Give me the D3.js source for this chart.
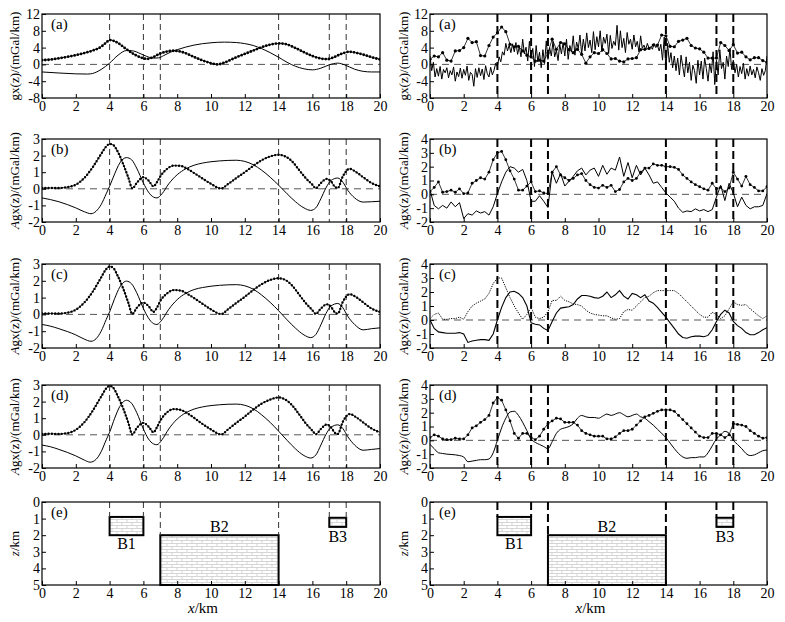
<!DOCTYPE html>
<html>
<head>
<meta charset="utf-8">
<title>gx(z) profiles</title>
<style>
body { margin: 0; background: #fff; }
text { font-family: "Times New Roman", "Liberation Serif", serif; fill: #000; }
.tick text { font-size: 14px; }
</style>
</head>
<body>
<script src="https://cdn.jsdelivr.net/npm/d3@7/dist/d3.min.js"></script>
<script>
// ---------- data ----------
var xTicks = [0, 2, 4, 6, 8, 10, 12, 14, 16, 18, 20];
var markX = [4, 6, 7, 14, 17, 18];          // dashed guide lines
var ticksA = [-8, -4, 0, 4, 8, 12];
var ticksL = [-2, -1, 0, 1, 2, 3];
var ticksR = [-2, -1, 0, 1, 2, 3, 4];
var ticksZ = [0, 1, 2, 3, 4, 5];

// left column, smooth curves: [x, value]
var leftA_amp = [[0,1.0],[0.5,1.15],[1,1.45],[1.5,1.8],[2,2.2],[2.5,2.7],[3,3.3],[3.5,4.2],[3.8,5.2],[4,5.8],[4.25,5.6],[4.5,5.1],[5,3.6],[5.5,2.3],[6,1.45],[6.2,1.3],[6.5,1.6],[7,2.6],[7.5,3.15],[7.8,3.25],[8.2,3.05],[8.6,2.5],[9,1.75],[9.5,0.95],[10,0.3],[10.4,0.0],[10.8,0.45],[11.5,1.7],[12,2.5],[12.5,3.3],[13,4.1],[13.5,4.7],[14,5.0],[14.4,4.85],[15,3.9],[15.5,2.9],[16,2.0],[16.5,1.4],[16.9,1.25],[17.3,1.75],[17.7,2.5],[18.2,3.0],[18.7,2.65],[19.2,2.1],[19.6,1.6],[20,1.2]];
var leftA_sol = [[0,-1.8],[1,-2.05],[2,-2.25],[2.7,-2.3],[3,-2.15],[3.5,-1.2],[4,0.3],[4.5,2.2],[5,3.3],[5.4,3.2],[5.8,2.6],[6.2,1.9],[6.6,1.5],[6.9,1.55],[7.2,2.1],[7.6,2.9],[8,3.5],[9,4.6],[10,5.15],[10.8,5.3],[11.5,5.2],[12,4.95],[12.5,4.5],[13,3.75],[13.5,2.8],[14,1.7],[14.5,0.5],[15,-0.45],[15.5,-1.05],[16,-1.3],[16.5,-0.9],[17,-0.1],[17.5,0.3],[17.9,-0.1],[18.5,-1.15],[19,-1.65],[19.5,-1.8],[20,-1.8]];

var leftB_amp = [[0,0.05],[0.5,0.05],[1,0.05],[1.5,0.1],[2,0.25],[2.5,0.65],[3,1.3],[3.5,2.1],[3.8,2.55],[4,2.7],[4.2,2.65],[4.5,2.2],[4.8,1.5],[5.1,0.7],[5.35,0.02],[5.6,0.35],[6,0.7],[6.3,0.5],[6.6,0.15],[6.8,0.4],[7,0.75],[7.4,1.2],[7.8,1.4],[8.2,1.38],[8.6,1.2],[9,0.95],[9.5,0.62],[10,0.3],[10.6,0.02],[11,0.28],[11.5,0.65],[12,1.0],[12.5,1.38],[13,1.72],[13.5,1.95],[14,2.05],[14.4,1.95],[14.8,1.65],[15.2,1.15],[15.6,0.65],[16,0.25],[16.2,0.03],[16.5,0.35],[16.85,0.6],[17.1,0.45],[17.35,0.1],[17.5,0.05],[17.8,0.75],[18.2,1.2],[18.6,1.0],[19,0.7],[19.5,0.35],[20,0.15]];
var leftB_sol = [[0,-0.55],[0.5,-0.65],[1,-0.78],[1.5,-0.95],[2,-1.15],[2.5,-1.38],[2.9,-1.5],[3.2,-1.35],[3.5,-0.95],[3.8,-0.3],[4,0.15],[4.3,0.9],[4.6,1.55],[5,1.88],[5.3,1.75],[5.6,1.25],[6,0.35],[6.3,-0.2],[6.6,-0.5],[6.8,-0.55],[7.1,-0.3],[7.5,0.3],[8,0.85],[8.5,1.2],[9,1.42],[9.5,1.55],[10,1.63],[10.5,1.68],[11,1.71],[11.5,1.72],[12,1.65],[12.5,1.45],[13,1.12],[13.5,0.7],[14,0.22],[14.5,-0.3],[15,-0.78],[15.5,-1.15],[15.9,-1.3],[16.2,-1.15],[16.5,-0.6],[16.8,0.05],[17.1,0.5],[17.5,0.65],[17.8,0.4],[18.1,-0.1],[18.5,-0.55],[19,-0.8],[19.5,-0.78],[20,-0.75]];

var leftC_amp = [[0,0.05],[0.5,0.05],[1,0.05],[1.5,0.1],[2,0.28],[2.5,0.7],[3,1.35],[3.5,2.2],[3.8,2.7],[4,2.85],[4.2,2.78],[4.5,2.25],[4.8,1.55],[5.1,0.72],[5.35,0.02],[5.6,0.38],[6,0.7],[6.3,0.5],[6.6,0.15],[6.8,0.4],[7,0.8],[7.4,1.25],[7.8,1.45],[8.2,1.42],[8.6,1.22],[9,0.97],[9.5,0.63],[10,0.3],[10.6,0.02],[11,0.3],[11.5,0.68],[12,1.05],[12.5,1.45],[13,1.8],[13.5,2.05],[14,2.15],[14.4,2.05],[14.8,1.72],[15.2,1.2],[15.6,0.68],[16,0.25],[16.2,0.03],[16.5,0.35],[16.85,0.6],[17.1,0.45],[17.35,0.1],[17.5,0.05],[17.8,0.75],[18.2,1.2],[18.6,1.02],[19,0.72],[19.5,0.35],[20,0.15]];
var leftC_sol = [[0,-0.6],[0.5,-0.7],[1,-0.85],[1.5,-1.02],[2,-1.22],[2.5,-1.47],[2.9,-1.6],[3.2,-1.45],[3.5,-1.0],[3.8,-0.3],[4,0.15],[4.3,0.95],[4.6,1.62],[5,1.98],[5.3,1.82],[5.6,1.3],[6,0.35],[6.3,-0.22],[6.6,-0.55],[6.8,-0.6],[7.1,-0.32],[7.5,0.3],[8,0.88],[8.5,1.25],[9,1.48],[9.5,1.6],[10,1.68],[10.5,1.73],[11,1.76],[11.5,1.77],[12,1.7],[12.5,1.5],[13,1.15],[13.5,0.72],[14,0.22],[14.5,-0.32],[15,-0.82],[15.5,-1.22],[15.9,-1.38],[16.2,-1.2],[16.5,-0.62],[16.8,0.05],[17.1,0.5],[17.5,0.65],[17.8,0.4],[18.1,-0.12],[18.5,-0.6],[19,-0.92],[19.5,-0.85],[20,-0.8]];

var leftD_amp = [[0,0.05],[0.5,0.06],[1,0.05],[1.5,0.1],[2,0.3],[2.5,0.75],[3,1.45],[3.5,2.3],[3.8,2.8],[4,2.95],[4.2,2.85],[4.5,2.3],[4.8,1.6],[5.1,0.75],[5.35,0.02],[5.6,0.4],[6,0.72],[6.3,0.5],[6.6,0.15],[6.8,0.45],[7,0.85],[7.4,1.35],[7.8,1.55],[8.2,1.5],[8.6,1.3],[9,1.02],[9.5,0.65],[10,0.32],[10.6,0.02],[11,0.32],[11.5,0.72],[12,1.1],[12.5,1.52],[13,1.88],[13.5,2.12],[14,2.25],[14.4,2.12],[14.8,1.78],[15.2,1.25],[15.6,0.7],[16,0.25],[16.2,0.03],[16.5,0.35],[16.85,0.62],[17.1,0.45],[17.35,0.1],[17.5,0.05],[17.8,0.78],[18.2,1.25],[18.6,1.05],[19,0.75],[19.5,0.38],[20,0.15]];
var leftD_sol = [[0,-0.62],[0.5,-0.72],[1,-0.88],[1.5,-1.06],[2,-1.27],[2.5,-1.52],[2.85,-1.65],[3.2,-1.48],[3.5,-1.02],[3.8,-0.3],[4,0.15],[4.3,1.0],[4.6,1.7],[5,2.08],[5.3,1.9],[5.6,1.35],[6,0.35],[6.3,-0.25],[6.6,-0.55],[6.8,-0.6],[7.1,-0.3],[7.5,0.35],[8,0.95],[8.5,1.32],[9,1.55],[9.5,1.68],[10,1.76],[10.5,1.81],[11,1.84],[11.5,1.85],[12,1.78],[12.5,1.57],[13,1.2],[13.5,0.75],[14,0.22],[14.5,-0.33],[15,-0.85],[15.5,-1.25],[15.9,-1.4],[16.2,-1.22],[16.5,-0.62],[16.8,0.02],[17.1,0.45],[17.5,0.6],[17.8,0.38],[18.1,-0.12],[18.5,-0.62],[19,-0.93],[19.5,-0.88],[20,-0.83]];

// right column, noisy curves on a regular grid (one row = 1 km)
var stepR = 0.25;
var rightA_amp = [
  1.2, 2.0, 1.8, 2.8,   1.0, 0.8, 3.2, 3.3,   4.0, 6.2, 5.2, 5.4,   2.1, 2.0, 4.5, 6.5,
  7.5, 8.9, 7.8, 4.8,   4.2, 4.3, 3.2, 2.2,   1.8, 0.8, 1.0, 0.8,   2.7, 6.0, 3.6, 5.2,
  4.9, 3.5, 2.8, 3.6,   2.4, 0.3, 1.8, 2.8,   2.6, 3.5, 2.6, 1.3,   1.4, 0.8, 0.6, 1.3,
  1.4, 1.6, 3.5, 3.6,   3.8, 4.6, 4.6, 7.0,   6.8, 4.3, 4.2, 5.5,   5.8, 6.2, 4.5, 3.9,
  3.7, 2.9, 1.5, 1.5,   1.5, 5.2, 4.5, 3.3,   4.7, 2.7, 2.9, 1.8,   1.1, 1.6, 1.6, 0.9,
  0.5];
var stepA = 0.1;
var rightA_sol = [
  2.0, -1.5, 0.5, -3.0, -1.0, -2.8, -0.5, -3.5, -1.2, -2.0,
  -0.8, -3.2, -1.5, -2.5, -0.6, -4.0, -1.8, -2.9, -0.9, -3.3,
  -1.2, -2.6, -0.4, -3.8, -1.9, -2.4, -5.2, -1.0, -3.1, -0.8,
  -2.7, -1.1, -3.6, -0.3, -2.2, -3.0, -0.7, -2.5, -1.4, 0.3,
  -0.5, 1.8, 0.6, 3.0, 2.2, 5.0, 3.2, 4.6, 2.8, 4.9,
  3.0, 5.2, 2.4, 4.3, 1.8, 6.0, 2.5, 4.1, 0.8, 5.5,
  1.5, 3.8, -0.5, 4.5, 0.6, 2.9, -0.8, 3.5, 0.2, 5.6,
  1.2, 4.0, 2.0, 5.5, 1.8, 3.4, 0.9, 4.8, 2.5, 5.2,
  2.0, 6.0, 1.2, 4.5, 3.0, 6.8, 2.2, 5.3, 3.8, 7.0,
  2.5, 6.0, 3.2, 7.5, 4.0, 5.8, 2.8, 7.8, 3.5, 6.6,
  4.2, 8.0, 3.0, 6.5, 5.0, 7.2, 2.6, 6.9, 3.8, 5.5,
  4.5, 9.3, 3.4, 8.0, 4.0, 6.2, 2.8, 7.6, 4.8, 6.0,
  3.6, 7.0, 4.2, 5.5, 3.0, 6.8, 3.8, 4.6, 3.5, 5.0,
  3.8, 4.2, 3.6, 5.0, 4.0, 4.5, 3.2, 4.8, 1.0, 6.5,
  -1.0, 5.0, 0.5, 2.8, -0.8, 2.0, -1.5, 1.5, -2.5, 2.2,
  -0.5, -3.0, 1.8, -2.0, 0.5, -3.8, -0.2, -1.5, -4.5, 1.0,
  -2.5, 0.8, -3.5, 1.5, -1.0, -4.0, 0.2, -2.0, 3.0, -4.8,
  1.0, -2.5, 3.5, -1.0, 0.5, -3.5, 2.0, -0.5, 3.8, -1.2,
  1.0, -2.0, 0.0, -3.0, -0.5, -2.2, 0.3, -3.5, -1.0, -2.8,
  -0.4, -2.5, -1.2, -3.2, -0.6, -2.0, -3.8, -1.0, -2.6, -1.5,
  2.0];
var rightB_amp = [
  0.2, 0.5, 0.9, 0.15,   0.2, 0.3, 0.15, 0.4,   0.05, 0.1, 0.8, 1.0,   1.2, 1.1, 1.6, 2.5,
  3.0, 3.1, 2.5, 1.7,    1.1, 0.3, 0.3, 0.6,    0.9, 0.2, 0.25, 0.1,   0.05, 1.6, 2.0, 1.4,
  1.2, 1.0, 1.15, 1.4,   1.5, 1.0, 0.7, 0.5,    0.45, 0.65, 0.5, 0.65, 0.2, 0.35, 0.9, 1.15,
  1.0, 1.15, 1.6, 1.9,   1.9, 2.2, 2.1, 2.1,    2.0, 2.0, 1.95, 1.8,   1.4, 1.15, 0.9, 0.7,
  0.55, 0.4, 0.3, 0.8,   0.4, 0.5, 0.2, 0.45,   1.6, 1.1, 0.6, 1.3,    0.7, 0.5, 0.25, 0.25,
  0.55];
var rightB_sol = [
  0.3, -0.8, -1.05, -0.8,  -1.0, -0.55, -0.9, -0.6,  -1.75, -1.4, -1.5, -1.2,  -1.35, -1.25, -1.5, -0.9,
  0.05, 0.9, 1.6, 2.0,     1.9, 1.6, 1.8, 1.0,       -0.5, -0.5, -0.1, -0.5,   -0.95, 1.6, 0.8, 1.5,
  0.6, 0.95, 1.3, 1.7,     1.9, 1.4, 1.75, 1.9,      1.3, 2.1, 1.45, 1.9,      1.75, 2.7, 1.3, 2.3,
  1.2, 2.1, 1.4, 1.9,      1.4, 0.8, 0.9, 0.5,       0.1, -0.2, -0.5, -1.0,    -1.3, -1.2, -1.25, -1.05,
  -1.2, -1.1, -1.25, -1.1, -0.2, 0.65, -0.45, 0.8,   0.1, -0.9, -0.2, -0.8,    -1.05, -0.9, -0.9, -0.8,
  0.05];
var rightC_amp = [
  0.1, 0.4, 0.5, 0.05,   0.05, 0.1, 0.1, 0.2,   0.05, 0.6, 1.0, 1.2,   1.35, 1.5, 1.9, 2.6,
  3.0, 3.0, 2.3, 1.6,    1.0, 0.5, 0.05, 0.4,   0.9, 0.2, 0.1, 0.2,    0.6, 1.4, 1.4, 1.7,
  1.4, 1.3, 1.15, 1.1,   1.0, 0.7, 0.5, 0.4,    0.35, 0.3, 0.3, 0.15,  0.05, 0.1, 0.6, 0.75,
  0.7, 1.0, 1.3, 1.6,    1.7, 1.95, 2.1, 2.1,   2.1, 2.1, 2.1, 1.9,    1.6, 1.3, 1.0, 0.7,
  0.4, 0.2, 0.2, 0.55,   0.4, 0.1, 0.3, 0.8,    1.3, 1.1, 1.05, 1.1,   0.8, 0.55, 0.3, 0.1,
  0.3];
var rightC_sol = [
  0.0, -0.6, -0.85, -0.9,   -0.95, -0.95, -0.95, -0.9,  -1.0, -1.6, -1.5, -1.45,  -1.4, -1.4, -1.45, -1.0,
  0.0, 0.9, 1.6, 2.0,       2.05, 1.9, 1.6, 1.0,        -0.2, -0.3, -0.35, -0.6,  -0.75, -0.1, 0.5, 0.85,
  0.9, 0.95, 1.1, 1.5,      1.75, 1.75, 1.7, 1.6,       1.55, 1.7, 2.0, 1.6,      1.8, 2.1, 1.7, 1.5,
  1.9, 1.8, 1.6, 1.8,       1.35, 1.2, 0.9, 0.55,       0.2, -0.2, -0.6, -1.0,    -1.25, -1.3, -1.2, -1.15,
  -1.15, -1.2, -1.1, -0.7,  -0.1, 0.4, 0.7, 0.5,        -0.1, -0.4, -0.6, -0.9,   -1.05, -1.05, -0.9, -0.7,
  -0.55];
var rightD_amp = [
  0.2, 0.4, 0.3, 0.1,    0.05, 0.05, 0.15, 0.1,  0.1, 0.4, 0.9, 1.05,   1.3, 1.5, 1.8, 2.7,
  3.1, 2.9, 2.2, 1.4,    0.5, 0.15, 0.5, 0.5,    0.2, 0.05, 0.3, 0.8,   1.2, 1.4, 1.6, 1.55,
  1.3, 1.3, 1.3, 1.1,    0.7, 0.5, 0.4, 0.3,     0.3, 0.3, 0.1, 0.1,    0.25, 0.5, 0.7, 0.7,
  0.8, 1.1, 1.4, 1.7,    1.8, 1.95, 2.1, 2.2,    2.2, 2.2, 2.1, 1.8,    1.5, 1.2, 0.9, 0.6,
  0.3, 0.2, 0.2, 0.5,    0.5, 0.4, 0.2, 0.4,     1.2, 1.15, 1.1, 1.0,   0.7, 0.5, 0.3, 0.15,
  0.2];
var rightD_sol = [
  -0.3, -0.6, -0.9, -0.95,  -1.0, -1.02, -1.05, -1.1,  -1.2, -1.55, -1.5, -1.45,  -1.4, -1.4, -1.35, -0.9,
  0.0, 0.9, 1.6, 2.05,      2.1, 1.8, 1.3, 0.7,        0.1, -0.15, -0.3, -0.45,   -0.6, -0.1, 0.5, 0.8,
  0.9, 1.0, 1.2, 1.6,       1.8, 1.7, 1.65, 1.65,      1.6, 1.75, 1.9, 1.8,       1.9, 2.0, 1.85, 1.7,
  1.8, 1.9, 1.7, 1.6,       1.35, 1.1, 0.8, 0.5,       0.2, -0.2, -0.6, -0.95,    -1.2, -1.3, -1.25, -1.25,
  -1.2, -1.2, -0.9, -0.4,   0.1, 0.4, 0.65, 0.5,       0.0, -0.3, -0.6, -0.95,    -1.1, -1.05, -0.9, -0.75,
  -0.7];

// model bodies (panel e)
var bodyNames = ["B1", "B2", "B3"];
var bodyX0 = [4, 7, 17];
var bodyX1 = [6, 14, 18];
var bodyZ0 = [0.9, 2.0, 0.95];
var bodyZ1 = [2.0, 5.0, 1.5];
var bodyLabelX = [5, 10.5, 17.5];
var bodyLabelZ = [2.5, 1.5, 2.1];

// ---------- layout ----------
var width = 785, height = 622;
var svg = d3.select("body").append("svg")
    .attr("width", width)
    .attr("height", height);

var cols = [
    {x0: 42, x1: 380, labX: 14, guideW: 1, guideDash: "6,4", guideCol: "#333"},
    {x0: 430, x1: 767, labX: 403, guideW: 2, guideDash: "8,4", guideCol: "#000"}
];
var rows = [
    {top: 14, bottom: 98},
    {top: 139, bottom: 222},
    {top: 264, bottom: 348},
    {top: 385, bottom: 468},
    {top: 502, bottom: 585}
];

function grid(vals, step) {
    return vals.map(function (v, i) { return [i * step, v]; });
}

// brick hatch for the bodies
var pat = svg.append("defs").append("pattern")
    .attr("id", "brick")
    .attr("patternUnits", "userSpaceOnUse")
    .attr("width", 10).attr("height", 6);
pat.append("path")
    .attr("d", "M0,0.5H10M0,3.5H10M2,0.5V3.5M7,3.5V6.5")
    .attr("stroke", "#c4c4c4").attr("stroke-width", 0.7).attr("fill", "none");

var labG = [{t: "gx(z)/(mGal/km)"}];
var labA = [{t: "A", i: true}, {t: "gx(z)/(mGal/km)"}];
var labAz = [{t: "A", i: true}, {t: "gx("}, {t: "z", i: true}, {t: ")/(mGal/km)"}];

var panels = [
    {c: 0, r: 0, tag: "(a)", dom: [-8, 12], ticks: ticksA, lab: labG, series: [
        {pts: leftA_sol, type: "line", smooth: true},
        {pts: leftA_amp, type: "dense", smooth: true, dot: 2.8}]},
    {c: 0, r: 1, tag: "(b)", dom: [-2, 3], ticks: ticksL, lab: labA, series: [
        {pts: leftB_sol, type: "line", smooth: true},
        {pts: leftB_amp, type: "dense", smooth: true, dot: 2.4}]},
    {c: 0, r: 2, tag: "(c)", dom: [-2, 3], ticks: ticksL, lab: labA, series: [
        {pts: leftC_sol, type: "line", smooth: true},
        {pts: leftC_amp, type: "dense", smooth: true, dot: 2.4}]},
    {c: 0, r: 3, tag: "(d)", dom: [-2, 3], ticks: ticksL, lab: labA, series: [
        {pts: leftD_sol, type: "line", smooth: true},
        {pts: leftD_amp, type: "dense", smooth: true, dot: 2.4}]},
    {c: 1, r: 0, tag: "(a)", dom: [-8, 12], ticks: ticksA, lab: labG, series: [
        {pts: grid(rightA_sol, stepA), type: "line"},
        {pts: grid(rightA_amp, stepR), type: "dots", r: 1.6}]},
    {c: 1, r: 1, tag: "(b)", dom: [-2, 4], ticks: ticksR, lab: labA, series: [
        {pts: grid(rightB_sol, stepR), type: "line"},
        {pts: grid(rightB_amp, stepR), type: "dots", r: 1.4}]},
    {c: 1, r: 2, tag: "(c)", dom: [-2, 4], ticks: ticksR, lab: labA, series: [
        {pts: grid(rightC_sol, stepR), type: "line", width: 1.1},
        {pts: grid(rightC_amp, stepR), type: "fine"}]},
    {c: 1, r: 3, tag: "(d)", dom: [-2, 4], ticks: ticksR, lab: labAz, series: [
        {pts: grid(rightD_sol, stepR), type: "line", smooth: true},
        {pts: grid(rightD_amp, stepR), type: "dots", r: 1.4}]}
];

function frameAndAxes(g, col, row, x, y, ticks) {
    g.append("g")
        .attr("transform", "translate(0," + row.bottom + ")")
        .call(d3.axisBottom(x).tickValues(xTicks).tickSize(-4).tickPadding(3)
            .tickFormat(function (d) { return String(d); }))
        .call(function (a) { a.select(".domain").remove(); });
    g.append("g")
        .attr("transform", "translate(" + col.x0 + ",0)")
        .call(d3.axisLeft(y).tickValues(ticks).tickSize(-4).tickPadding(2)
            .tickFormat(function (d) { return String(d); }))
        .call(function (a) { a.select(".domain").remove(); });
    g.selectAll(".tick line").attr("stroke", "#000");
    g.append("rect")
        .attr("x", col.x0).attr("y", row.top)
        .attr("width", col.x1 - col.x0).attr("height", row.bottom - row.top)
        .attr("fill", "none").attr("stroke", "#000").attr("stroke-width", 1.2);
}

function yLabel(g, col, row, parts) {
    var t = g.append("text")
        .attr("transform", "translate(" + col.labX + "," + ((row.top + row.bottom) / 2) + ") rotate(-90)")
        .attr("text-anchor", "middle")
        .attr("dominant-baseline", "central")
        .style("font-size", "13px");
    parts.forEach(function (p) {
        t.append("tspan").text(p.t).style("font-style", p.i ? "italic" : "normal");
    });
}

panels.forEach(function (p, k) {
    var col = cols[p.c], row = rows[p.r];
    var x = d3.scaleLinear().domain([0, 20]).range([col.x0, col.x1]);
    var y = d3.scaleLinear().domain(p.dom).range([row.bottom, row.top]);
    var g = svg.append("g");

    g.append("clipPath").attr("id", "clip" + k).append("rect")
        .attr("x", col.x0).attr("y", row.top)
        .attr("width", col.x1 - col.x0).attr("height", row.bottom - row.top);
    var inner = g.append("g").attr("clip-path", "url(#clip" + k + ")");

    // zero line
    inner.append("line")
        .attr("x1", col.x0).attr("x2", col.x1)
        .attr("y1", y(0)).attr("y2", y(0))
        .attr("stroke", "#555").attr("stroke-width", 1).attr("stroke-dasharray", "7,5");

    // guide lines at body edges
    inner.selectAll(".guide").data(markX).enter().append("line")
        .attr("x1", function (d) { return x(d); })
        .attr("x2", function (d) { return x(d); })
        .attr("y1", row.top).attr("y2", row.bottom)
        .attr("stroke", col.guideCol).attr("stroke-width", col.guideW)
        .attr("stroke-dasharray", col.guideDash);

    p.series.forEach(function (s) {
        var line = d3.line()
            .x(function (d) { return x(d[0]); })
            .y(function (d) { return y(d[1]); })
            .curve(s.smooth ? d3.curveMonotoneX : d3.curveLinear);
        if (s.type === "line") {
            inner.append("path").attr("d", line(s.pts))
                .attr("fill", "none").attr("stroke", "#000").attr("stroke-width", s.width || 1);
        } else if (s.type === "dense") {
            inner.append("path").attr("d", line(s.pts))
                .attr("fill", "none").attr("stroke", "#000").attr("stroke-width", 0.8);
            inner.append("path").attr("d", line(s.pts))
                .attr("fill", "none").attr("stroke", "#000").attr("stroke-width", s.dot)
                .attr("stroke-linecap", "round").attr("stroke-dasharray", "0,3.3");
        } else if (s.type === "dots") {
            inner.append("path").attr("d", line(s.pts))
                .attr("fill", "none").attr("stroke", "#000").attr("stroke-width", 0.8);
            inner.selectAll(null).data(s.pts).enter().append("circle")
                .attr("cx", function (d) { return x(d[0]); })
                .attr("cy", function (d) { return y(d[1]); })
                .attr("r", s.r).attr("fill", "#000");
        } else if (s.type === "fine") {
            inner.append("path").attr("d", line(s.pts))
                .attr("fill", "none").attr("stroke", "#000").attr("stroke-width", 1)
                .attr("stroke-dasharray", "1.2,1.2");
        }
    });

    frameAndAxes(g, col, row, x, y, p.ticks);
    yLabel(g, col, row, p.lab);
    g.append("text").attr("x", col.x0 + 9).attr("y", row.top + 15)
        .style("font-size", "15px").text(p.tag);
});

// ---------- panel (e): model ----------
cols.forEach(function (col, k) {
    var row = rows[4];
    var x = d3.scaleLinear().domain([0, 20]).range([col.x0, col.x1]);
    var z = d3.scaleLinear().domain([0, 5]).range([row.top, row.bottom]);
    var g = svg.append("g");

    bodyNames.forEach(function (name, i) {
        g.append("rect")
            .attr("x", x(bodyX0[i])).attr("y", z(bodyZ0[i]))
            .attr("width", x(bodyX1[i]) - x(bodyX0[i]))
            .attr("height", z(bodyZ1[i]) - z(bodyZ0[i]))
            .attr("fill", "url(#brick)").attr("stroke", "#000").attr("stroke-width", 2);
        [bodyX0[i], bodyX1[i]].forEach(function (bx) {
            g.append("line")
                .attr("x1", x(bx)).attr("x2", x(bx))
                .attr("y1", z(0)).attr("y2", z(bodyZ0[i]))
                .attr("stroke", col.guideCol).attr("stroke-width", col.guideW)
                .attr("stroke-dasharray", col.guideDash);
        });
        g.append("text")
            .attr("x", x(bodyLabelX[i])).attr("y", z(bodyLabelZ[i]))
            .attr("text-anchor", "middle").attr("dominant-baseline", "central")
            .style("font-size", "16px").text(name);
    });

    frameAndAxes(g, col, row, x, z, ticksZ);
    yLabel(g, col, row, [{t: "z", i: true}, {t: "/km"}]);
    g.append("text").attr("x", col.x0 + 9).attr("y", row.top + 15)
        .style("font-size", "15px").text("(e)");
    var xl = g.append("text")
        .attr("x", (col.x0 + col.x1) / 2 - 8).attr("y", 613)
        .attr("text-anchor", "middle").style("font-size", "15px");
    xl.append("tspan").text("x").style("font-style", "italic");
    xl.append("tspan").text("/km");
});
</script>
</body>
</html>
